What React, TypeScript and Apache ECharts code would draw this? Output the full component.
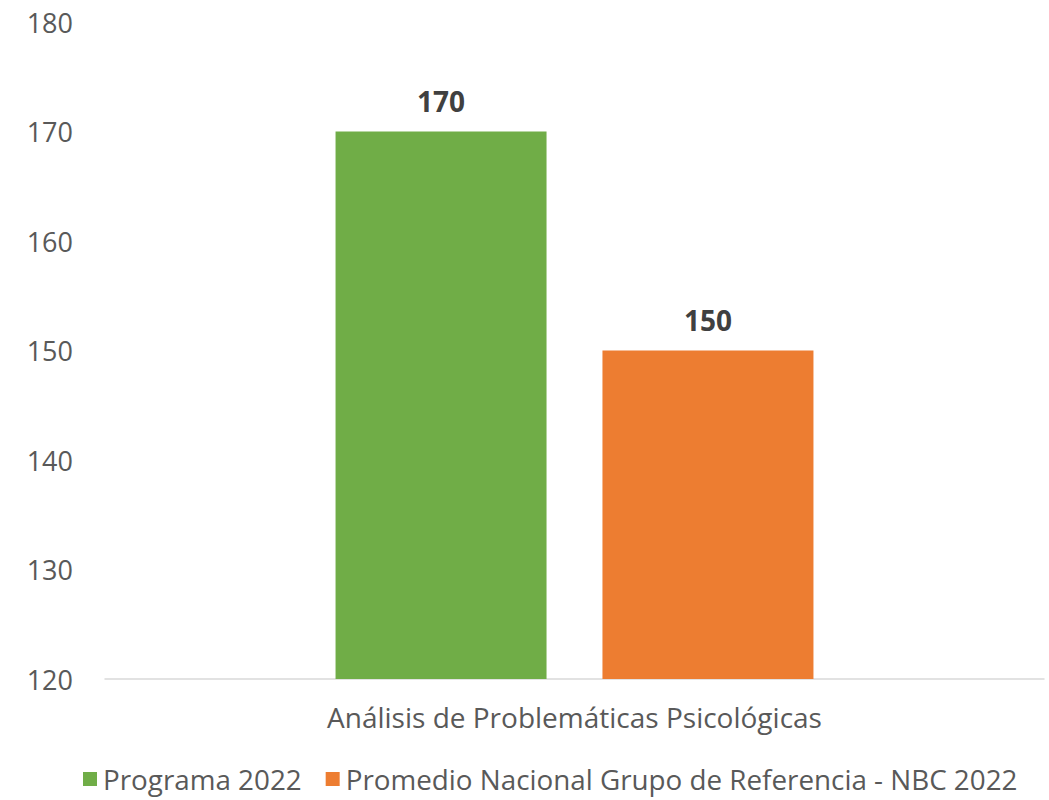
import React, { useEffect, useRef } from "react";
import * as echarts from "echarts";

const categories = ["Análisis de Problemáticas Psicológicas"];
const seriesNames = ["Programa 2022", "Promedio Nacional Grupo de Referencia - NBC 2022"];
const programaValues = [170];
const promedioValues = [150];
const seriesColors = ["#70AD47", "#ED7D31"];
const yMin = 120;
const yMax = 180;
const yInterval = 10;

const FONT = "'Open Sans', 'Noto Sans', sans-serif";

export default function App() {
  const ref = useRef<HTMLDivElement>(null);
  useEffect(() => {
    document.body.style.margin = "0";
    const chart = echarts.init(ref.current!, null, { renderer: "svg" });
    const mkSeries = (i: number, data: number[]) => ({
      name: seriesNames[i],
      type: "bar",
      data,
      barWidth: 211,
      barGap: "26.5%",
      itemStyle: { color: seriesColors[i] },
      label: {
        show: true,
        position: "top",
        distance: 17,
        fontFamily: FONT,
        fontSize: 28,
        fontWeight: "bold",
        color: "#404040",
      },
    });
    chart.setOption({
      animation: false,
      backgroundColor: "#ffffff",
      textStyle: { fontFamily: FONT },
      grid: { left: 105, right: 5, top: 22, bottom: 121, containLabel: false },
      legend: {
        bottom: 2,
        left: 78,
        itemWidth: 14,
        itemHeight: 14,
        itemGap: 24,
        icon: "rect",
        textStyle: { fontFamily: FONT, fontSize: 27.8, color: "#595959", padding: [0, 0, 0, 1] },
        data: seriesNames,
      },
      xAxis: {
        type: "category",
        data: categories,
        axisLine: { lineStyle: { color: "#D9D9D9", width: 1.5 } },
        axisTick: { show: false },
        axisLabel: { fontFamily: FONT, fontSize: 28, color: "#595959", margin: 24 },
      },
      yAxis: {
        type: "value",
        min: yMin,
        max: yMax,
        interval: yInterval,
        splitLine: { show: false },
        axisLine: { show: false },
        axisTick: { show: false },
        axisLabel: { fontFamily: FONT, fontSize: 27, color: "#595959", margin: 32 },
      },
      series: [mkSeries(0, programaValues), mkSeries(1, promedioValues)],
    });
    return () => chart.dispose();
  }, []);
  return <div ref={ref} style={{ width: 1049, height: 800 }} />;
}
